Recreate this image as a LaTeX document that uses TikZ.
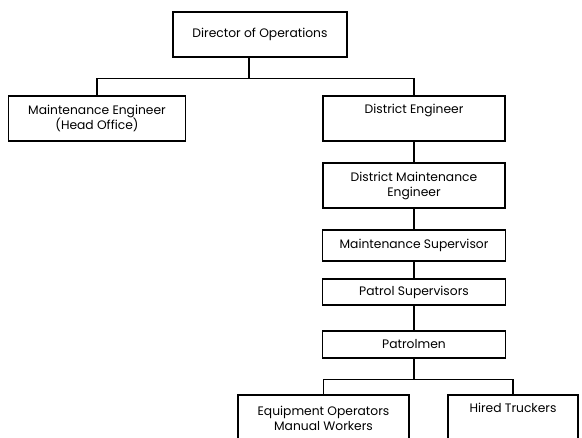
\documentclass[tikz,border=0pt]{standalone}
\usepackage{fontspec}
\setmainfont{Poppins}
\begin{document}
\begin{tikzpicture}[x=1pt,y=-1pt,
  box/.style={draw,line width=1.2pt,inner sep=0pt,align=center,
    font=\fontsize{12.3}{15}\selectfont},
  link/.style={line width=1.2pt}]
\clip (0,0) rectangle (582,438);
\node[box,minimum width=174pt,minimum height=45pt] (dir) at (260,34.5) {Director of Operations};
\node[box,minimum width=177pt,minimum height=45pt] (me) at (97,118.5) {Maintenance Engineer\\(Head Office)};
\node[box,minimum width=182pt,minimum height=45pt] (de) at (414,118.5) {District Engineer\\\strut};
\node[box,minimum width=182pt,minimum height=45pt] (dme) at (414,185.5) {District Maintenance\\Engineer};
\node[box,minimum width=183pt,minimum height=31pt] (ms) at (414,245.5) {Maintenance Supervisor};
\node[box,minimum width=183pt,minimum height=26pt] (ps) at (414,292) {Patrol Supervisors};
\node[box,minimum width=183pt,minimum height=27pt] (pm) at (414,344.5) {Patrolmen};
\node[box,minimum width=171pt,minimum height=46pt] (eq) at (323.5,418) {Equipment Operators\\Manual Workers};
\node[box,minimum width=130pt,minimum height=46pt] (ht) at (513,418) {Hired Truckers\\\strut};
% top split
\coordinate (top) at ([xshift=-11pt]dir.south);
\draw[link] (top) -- ++(0,21) -| (me.north);
\draw[link] (top) -- ++(0,21) -| (de.north);
% chain
\draw[link] (de) -- (dme);
\draw[link] (dme) -- (ms);
\draw[link] (ms) -- (ps);
\draw[link] (ps) -- (pm);
% bottom split
\draw[link] (pm.south) -- ++(0,21) -| (eq.north);
\draw[link] (pm.south) -- ++(0,21) -| (ht.north);
\end{tikzpicture}
\end{document}
